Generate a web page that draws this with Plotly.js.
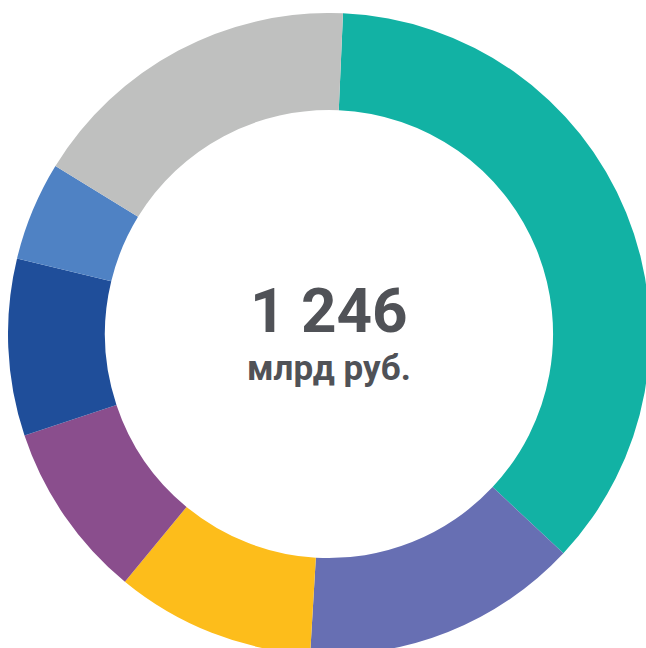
<!DOCTYPE html>
<html>
<head>
<meta charset="utf-8">
<script src="https://cdn.plot.ly/plotly-3.0.1.min.js"></script>
<style>
html,body{margin:0;padding:0;width:646px;height:648px;overflow:hidden;background:#fff;}
#chart{position:absolute;left:8px;top:13px;width:642px;height:642px;}
</style>
</head>
<body>
<div id="chart"></div>
<script>
const categories = ["Сегмент 1","Сегмент 2","Сегмент 3","Сегмент 4","Сегмент 5","Сегмент 6","Сегмент 7"];
const values = [452, 174, 125, 111, 111, 62, 211];
const colors = ["#12b2a4","#676fb3","#fdbd1b","#8a4e8d","#1f4e9a","#4f82c4","#bfc0bf"];
const totalLabel = "1 246";
const unitLabel = "млрд руб.";

const trace = {
  type: "pie",
  labels: categories,
  values: values,
  hole: 0.698,
  sort: false,
  direction: "clockwise",
  rotation: 2.5,
  textinfo: "none",
  hoverinfo: "label+value",
  marker: {colors: colors, line: {width: 0}},
  domain: {x:[0,1], y:[0,1]}
};
const layout = {
  width: 642, height: 642,
  margin: {l:0, r:0, t:0, b:0},
  showlegend: false,
  paper_bgcolor: "#ffffff",
  annotations: [
    {text: totalLabel, x: 0.5, y: 0.536, xref: "paper", yref: "paper", showarrow: false,
     xanchor: "center", yanchor: "middle", borderpad: 0,
     font: {family: "Roboto", size: 62, color: "#505257", weight: 700}},
    {text: unitLabel, x: 0.5, y: 0.447, xref: "paper", yref: "paper", showarrow: false,
     xanchor: "center", yanchor: "middle", borderpad: 0,
     font: {family: "Roboto", size: 35, color: "#505257", weight: 700}}
  ]
};
Plotly.newPlot("chart", [trace], layout, {displayModeBar: false, staticPlot: true});
</script>
</body>
</html>
